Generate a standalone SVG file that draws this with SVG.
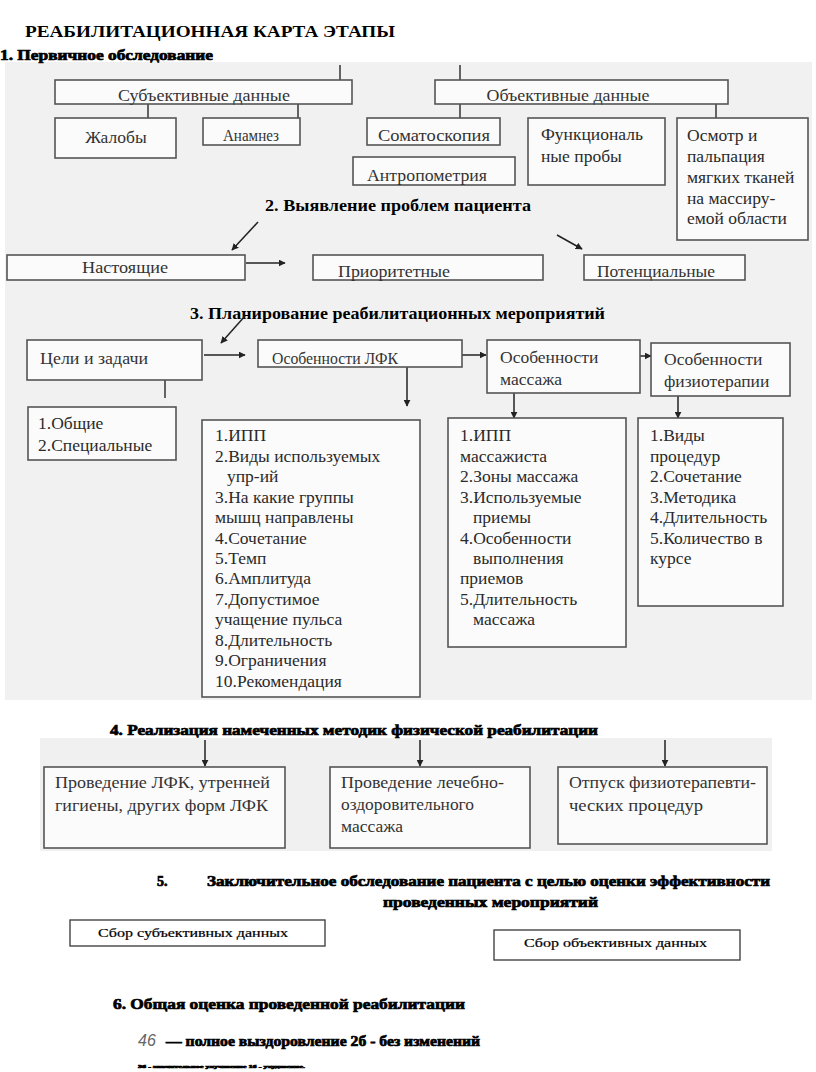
<svg xmlns="http://www.w3.org/2000/svg" width="816" height="1072" viewBox="0 0 816 1072">
<defs>
<marker id="ah" viewBox="0 0 10 10" refX="9" refY="5" markerWidth="7" markerHeight="7" orient="auto" markerUnits="userSpaceOnUse">
<path d="M0,0 L10,5 L0,10 z" fill="#222"/>
</marker>
<style>
.bx{fill:#fbfbfb;stroke:#555;stroke-width:1.6}
.bw{fill:#fff;stroke:#444;stroke-width:1.4}
.t{font-family:"Liberation Serif","Times New Roman",serif;font-size:17.5px;fill:#333}
.tl{font-family:"Liberation Serif","Times New Roman",serif;font-size:17.5px;fill:#2a2a2a}
.h{font-family:"Liberation Serif","Times New Roman",serif;font-weight:bold;fill:#000}
.hb{font-family:"Liberation Serif","Times New Roman",serif;font-weight:bold;fill:#000;stroke:#000;stroke-width:0.7}
.c{stroke:#333;stroke-width:1.5;fill:none}
.ca{stroke:#222;stroke-width:1.5;fill:none;marker-end:url(#ah)}
.sm{font-family:"Liberation Serif","Times New Roman",serif;font-size:12px;fill:#000;stroke:#000;stroke-width:0.2}
</style>
</defs>
<rect width="816" height="1072" fill="#fff"/>
<rect x="5" y="62" width="807" height="638" fill="#f1f1f1"/>
<rect x="40" y="738" width="732" height="113" fill="#f0f0f0"/>

<g id="headings">
<text class="h" x="25" y="37" font-size="17" textLength="370" lengthAdjust="spacingAndGlyphs">РЕАБИЛИТАЦИОННАЯ  КАРТА  ЭТАПЫ</text>
<text class="hb" x="0" y="60" font-size="14" textLength="213" lengthAdjust="spacingAndGlyphs">1. Первичное обследование</text>
<text class="h" x="265" y="211" font-size="16" textLength="266" lengthAdjust="spacingAndGlyphs">2. Выявление проблем пациента</text>
<text class="h" x="190" y="319" font-size="16" textLength="415" lengthAdjust="spacingAndGlyphs">3. Планирование реабилитационных мероприятий</text>
<text class="hb" x="110" y="735" font-size="14" textLength="488" lengthAdjust="spacingAndGlyphs">4. Реализация  намеченных методик физической реабилитации</text>
<text class="hb" x="157" y="886" font-size="14">5.</text>
<text class="hb" x="207" y="886" font-size="14" textLength="563" lengthAdjust="spacingAndGlyphs">Заключительное обследование пациента с целью оценки эффективности</text>
<text class="hb" x="383" y="907" font-size="14" textLength="215" lengthAdjust="spacingAndGlyphs">проведенных мероприятий</text>
<text class="hb" x="113" y="1009" font-size="15" textLength="352" lengthAdjust="spacingAndGlyphs">6. Общая оценка проведенной реабилитации</text>
<text x="138" y="1046" font-family="Liberation Sans, Arial, sans-serif" font-size="16" font-style="italic" fill="#666">46</text>
<text class="hb" x="166" y="1046" font-size="14" textLength="314" lengthAdjust="spacingAndGlyphs">— полное  выздоровление  2б - без изменений</text>
<text class="hb" x="138" y="1068" font-size="5" stroke-width="0.3" textLength="167" lengthAdjust="spacingAndGlyphs">3б - значительное улучшение 1б - ухудшение.</text>
</g>

<g id="connectors">
<line class="c" x1="340" y1="65" x2="340" y2="80"/>
<line class="c" x1="460" y1="65" x2="460" y2="80"/>
<line class="c" x1="148" y1="104" x2="148" y2="118"/>
<line class="c" x1="298" y1="104" x2="298" y2="118"/>
<line class="c" x1="460" y1="104" x2="460" y2="118"/>
<line class="c" x1="716" y1="104" x2="716" y2="118"/>
<line class="ca" x1="258" y1="222" x2="232" y2="250"/>
<line class="ca" x1="557" y1="235" x2="582" y2="249"/>
<line class="ca" x1="246" y1="263" x2="285" y2="263"/>
<line class="ca" x1="245" y1="316" x2="221" y2="343"/>
<line class="ca" x1="204" y1="355" x2="245" y2="355"/>
<line class="c" x1="165" y1="380" x2="165" y2="398"/>
<line class="ca" x1="462" y1="355" x2="486" y2="355"/>
<line class="ca" x1="407" y1="367" x2="407" y2="406"/>
<line class="ca" x1="640" y1="356" x2="651" y2="356"/>
<line class="ca" x1="514" y1="393" x2="514" y2="418"/>
<line class="ca" x1="678" y1="396" x2="678" y2="418"/>
<line class="ca" x1="205" y1="740" x2="205" y2="766"/>
<line class="ca" x1="420" y1="740" x2="420" y2="766"/>
<line class="ca" x1="665" y1="740" x2="665" y2="766"/>
</g>

<g id="subj">
<rect class="bx" x="55" y="80" width="297" height="24"/>
<text class="t" x="204" y="101" text-anchor="middle" fill="#444" textLength="172" lengthAdjust="spacingAndGlyphs">Субъективные данные</text>
</g>
<g id="obj">
<rect class="bx" x="435" y="80" width="293" height="24"/>
<text class="t" x="568" y="101" text-anchor="middle" fill="#444" textLength="163" lengthAdjust="spacingAndGlyphs">Объективные данные</text>
</g>
<g id="zhaloby">
<rect class="bx" x="55" y="118" width="121" height="40"/>
<text class="t" x="116" y="143" text-anchor="middle">Жалобы</text>
</g>
<g id="anamnez">
<rect class="bx" x="203" y="118" width="97" height="27"/>
<text class="t" x="251" y="141" text-anchor="middle" font-size="16" textLength="56" lengthAdjust="spacingAndGlyphs">Анамнез</text>
</g>
<g id="somato">
<rect class="bx" x="367" y="118" width="133" height="27"/>
<text class="t" x="434" y="141" text-anchor="middle" font-size="16" textLength="112" lengthAdjust="spacingAndGlyphs">Соматоскопия</text>
</g>
<g id="antropo">
<rect class="bx" x="353" y="157" width="162" height="28"/>
<text class="t" x="427" y="181" text-anchor="middle" font-size="16" textLength="120" lengthAdjust="spacingAndGlyphs">Антропометрия</text>
</g>
<g id="funk">
<rect class="bx" x="528" y="118" width="137" height="67"/>
<text class="tl" x="541" y="140">Функциональ</text>
<text class="tl" x="541" y="162">ные  пробы</text>
</g>
<g id="osmotr">
<rect class="bx" x="677" y="118" width="131" height="122"/>
<text class="tl" x="687" y="141">Осмотр и</text>
<text class="tl" x="687" y="162">пальпация</text>
<text class="tl" x="687" y="183">мягких тканей</text>
<text class="tl" x="687" y="204">на массиру-</text>
<text class="tl" x="687" y="224">емой области</text>
</g>

<g id="nastoyashie">
<rect class="bx" x="7" y="255" width="238" height="25"/>
<text class="t" x="82" y="273" textLength="86" lengthAdjust="spacingAndGlyphs">Настоящие</text>
</g>
<g id="prioritet">
<rect class="bx" x="313" y="255" width="230" height="25"/>
<text class="t" x="338" y="277" textLength="112" lengthAdjust="spacingAndGlyphs">Приоритетные</text>
</g>
<g id="potencial">
<rect class="bx" x="584" y="255" width="161" height="25"/>
<text class="t" x="597" y="277" textLength="118" lengthAdjust="spacingAndGlyphs">Потенциальные</text>
</g>

<g id="celi">
<rect class="bx" x="27" y="340" width="175" height="40"/>
<text class="t" x="40" y="364" textLength="108" lengthAdjust="spacingAndGlyphs">Цели и задачи</text>
</g>
<g id="lfk">
<rect class="bx" x="258" y="340" width="204" height="27"/>
<text class="t" x="272" y="364" textLength="126" lengthAdjust="spacingAndGlyphs">Особенности ЛФК</text>
</g>
<g id="massazh">
<rect class="bx" x="487" y="340" width="153" height="53"/>
<text class="t" x="500" y="363">Особенности</text>
<text class="t" x="500" y="385">массажа</text>
</g>
<g id="fizio">
<rect class="bx" x="651" y="343" width="139" height="53"/>
<text class="t" x="664" y="365">Особенности</text>
<text class="t" x="664" y="387">физиотерапии</text>
</g>

<g id="celi-list">
<rect class="bx" x="28" y="407" width="148" height="53"/>
<text class="tl" x="38" y="429">1.Общие</text>
<text class="tl" x="38" y="451">2.Специальные</text>
</g>
<g id="lfk-list">
<rect class="bx" x="202" y="420" width="218" height="277"/>
<text class="tl" x="215" y="441">1.ИПП</text>
<text class="tl" x="215" y="462">2.Виды используемых</text>
<text class="tl" x="227" y="482">упр-ий</text>
<text class="tl" x="215" y="503">3.На какие группы</text>
<text class="tl" x="215" y="523">мышц направлены</text>
<text class="tl" x="215" y="544">4.Сочетание</text>
<text class="tl" x="215" y="564">5.Темп</text>
<text class="tl" x="215" y="584">6.Амплитуда</text>
<text class="tl" x="215" y="605">7.Допустимое</text>
<text class="tl" x="215" y="625">учащение пульса</text>
<text class="tl" x="215" y="646">8.Длительность</text>
<text class="tl" x="215" y="666">9.Ограничения</text>
<text class="tl" x="215" y="687">10.Рекомендация</text>
</g>
<g id="massazh-list">
<rect class="bx" x="448" y="418" width="178" height="229"/>
<text class="tl" x="460" y="441">1.ИПП</text>
<text class="tl" x="460" y="462">массажиста</text>
<text class="tl" x="460" y="482">2.Зоны массажа</text>
<text class="tl" x="460" y="503">3.Используемые</text>
<text class="tl" x="473" y="523">приемы</text>
<text class="tl" x="460" y="544">4.Особенности</text>
<text class="tl" x="473" y="564">выполнения</text>
<text class="tl" x="460" y="584">приемов</text>
<text class="tl" x="460" y="605">5.Длительность</text>
<text class="tl" x="473" y="625">массажа</text>
</g>
<g id="fizio-list">
<rect class="bx" x="638" y="418" width="145" height="188"/>
<text class="tl" x="650" y="441">1.Виды</text>
<text class="tl" x="650" y="462">процедур</text>
<text class="tl" x="650" y="482">2.Сочетание</text>
<text class="tl" x="650" y="503">3.Методика</text>
<text class="tl" x="650" y="523">4.Длительность</text>
<text class="tl" x="650" y="544">5.Количество в</text>
<text class="tl" x="650" y="564">курсе</text>
</g>

<g id="real-lfk">
<rect class="bx" x="44" y="767" width="241" height="81"/>
<text class="t" x="55" y="788" fill="#444" textLength="215" lengthAdjust="spacingAndGlyphs">Проведение ЛФК, утренней</text>
<text class="t" x="55" y="811" fill="#444" textLength="213" lengthAdjust="spacingAndGlyphs">гигиены, других форм ЛФК</text>
</g>
<g id="real-massazh">
<rect class="bx" x="330" y="767" width="200" height="81"/>
<text class="t" x="341" y="788" fill="#444" textLength="163" lengthAdjust="spacingAndGlyphs">Проведение лечебно-</text>
<text class="t" x="341" y="810" fill="#444" textLength="133" lengthAdjust="spacingAndGlyphs">оздоровительного</text>
<text class="t" x="341" y="832" fill="#444">массажа</text>
</g>
<g id="real-fizio">
<rect class="bx" x="558" y="767" width="209" height="77"/>
<text class="t" x="569" y="788" fill="#444" textLength="187" lengthAdjust="spacingAndGlyphs">Отпуск физиотерапевти-</text>
<text class="t" x="569" y="811" fill="#444" textLength="134" lengthAdjust="spacingAndGlyphs">ческих  процедур</text>
</g>

<g id="sbor-subj">
<rect class="bw" x="70" y="920" width="255" height="26"/>
<text class="sm" x="98" y="937" textLength="190" lengthAdjust="spacingAndGlyphs">Сбор  субъективных  данных</text>
</g>
<g id="sbor-obj">
<rect class="bw" x="494" y="930" width="246" height="30"/>
<text class="sm" x="524" y="947" textLength="183" lengthAdjust="spacingAndGlyphs">Сбор  объективных  данных</text>
</g>
</svg>
